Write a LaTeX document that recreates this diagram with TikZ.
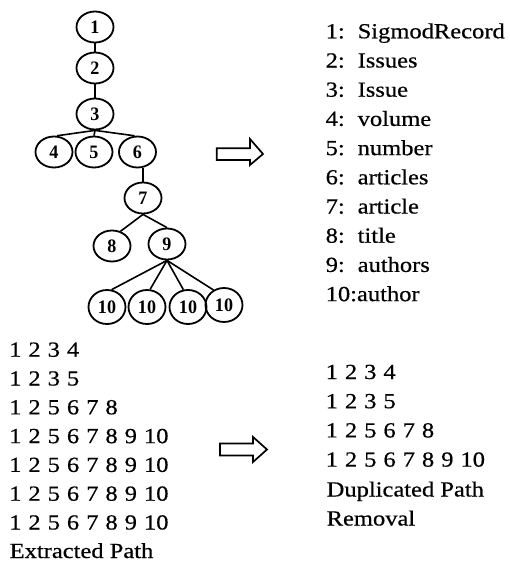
\documentclass[tikz,border=0pt]{standalone}
\usepackage{fontspec}
\setmainfont{Liberation Serif}[FakeStretch=1.14,FakeBold=0.5]
\newfontfamily\treefont{Liberation Serif}[FakeStretch=0.95]
\usetikzlibrary{shapes.geometric}
\newcommand\txtfont{\fontsize{21.5}{26}\selectfont}
\newcommand\numfont{\fontsize{21.5}{26}\selectfont\spaceskip 7pt\relax}
\begin{document}
\begin{tikzpicture}[x=1pt,y=-1pt,
  tn/.style={ellipse, draw, line width=1.8pt, minimum width=37pt, minimum height=31pt, inner sep=0pt,
    font=\treefont\bfseries\fontsize{19}{20}\selectfont},
  tnten/.style={tn, minimum width=37pt, minimum height=34pt},
  edge/.style={line width=1.6pt},
  txt/.style={anchor=base west, inner sep=0pt, font=\txtfont},
  num/.style={anchor=base west, inner sep=0pt, font=\numfont},
  hollow/.style={draw, line width=1.7pt, fill=white, line join=miter}]
\useasboundingbox (0,0) rectangle (510,565);
% tree
\node[tn] (n1) at (95,27) {1};
\node[tn] (n2) at (95,68) {2};
\node[tn] (n3) at (95,114) {3};
\node[tn] (n4) at (54,152) {4};
\node[tn] (n5) at (94,152) {5};
\node[tn] (n6) at (137.5,152) {6};
\node[tn] (n7) at (143,198) {7};
\node[tn] (n8) at (112,246) {8};
\node[tn] (n9) at (167,244) {9};
\node[tnten] (n10a) at (107,307) {10};
\node[tnten] (n10b) at (147,307) {10};
\node[tnten] (n10c) at (188,307) {10};
\node[tnten] (n10d) at (224,305) {10};
\draw[edge] (n1) -- (n2);
\draw[edge] (n2) -- (n3);
\draw[edge] (n3.south) -- (n4.80);
\draw[edge] (n3.south) -- (n5.north);
\draw[edge] (n3.south) -- (n6.100);
\draw[edge] (n6.south -| n7.north) -- (n7.north);
\draw[edge] (n7.south) -- (n8.60);
\draw[edge] (n7.south) -- (n9.north);
\draw[edge] (n9.south) -- (n10a.75);
\draw[edge] (n9.south) -- (n10b.80);
\draw[edge] (n9.south) -- (n10c.105);
\draw[edge] (n9.south) -- (n10d.125);
% arrows
\draw[hollow] (216.7,148.3) -- (250,148.3) -- (250,139) -- (263,154) -- (250,165) -- (250,160) -- (216.7,160) -- cycle;
\draw[hollow] (220,443.5) -- (253,443.5) -- (253,437) -- (267,449.5) -- (253,462) -- (253,455.5) -- (220,455.5) -- cycle;
% legend
\foreach \i/\lab/\name in {0/1:/SigmodRecord,1/2:/Issues,2/3:/Issue,3/4:/volume,4/5:/number,5/6:/articles,6/7:/article,7/8:/title,8/9:/authors}{
  \node[txt] (l\i) at (325.5,38.3+29.2*\i) {\lab};
  \node[txt] (m\i) at (357.5,38.3+29.2*\i) {\name};
}
\node[txt] (l9) at (325.5,38.3+29.2*9) {10:author};
% extracted paths
\node[num] (p1) at (9,356.7) {1 2 3 4};
\node[num] (p2) at (9,385.5) {1 2 3 5};
\node[num] (p3) at (9,414.3) {1 2 5 6 7 8};
\node[num] (p4) at (9,443.1) {1 2 5 6 7 8 9 10};
\node[num] (p5) at (9,471.9) {1 2 5 6 7 8 9 10};
\node[num] (p6) at (9,500.7) {1 2 5 6 7 8 9 10};
\node[num] (p7) at (9,529.5) {1 2 5 6 7 8 9 10};
\node[txt] (p8) at (9.5,558) {Extracted Path};
% deduplicated
\node[num] (q1) at (325.5,379) {1 2 3 4};
\node[num] (q2) at (325.5,408.2) {1 2 3 5};
\node[num] (q3) at (325.5,437.4) {1 2 5 6 7 8};
\node[num] (q4) at (325.5,466.6) {1 2 5 6 7 8 9 10};
\node[txt] (q5) at (326.5,496.5) {Duplicated Path};
\node[txt] (q6) at (326.5,525.5) {Removal};
\end{tikzpicture}
\end{document}
